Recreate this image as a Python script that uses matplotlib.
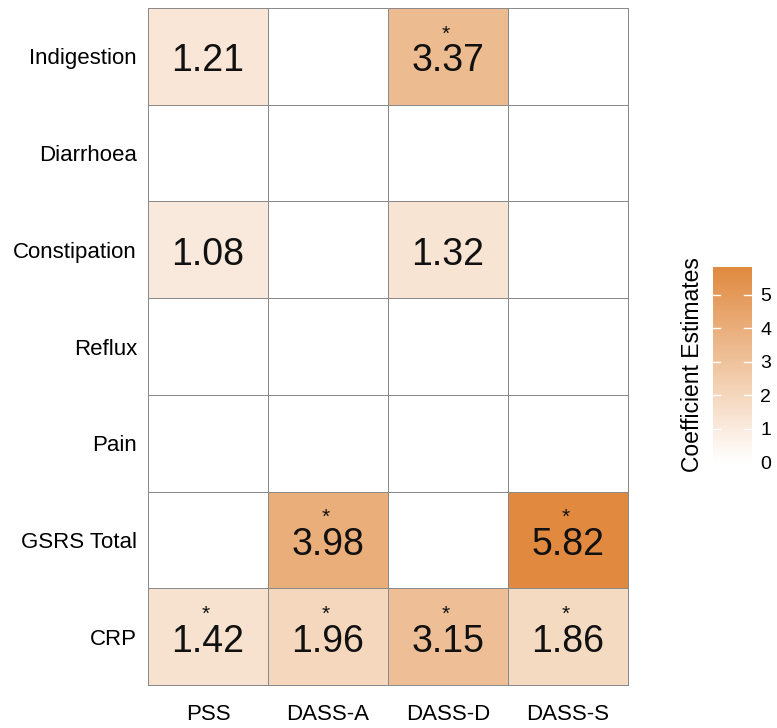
import numpy as np
import matplotlib
matplotlib.use('Agg')
import matplotlib.pyplot as plt
from matplotlib.colors import LinearSegmentedColormap

plt.rcParams['font.family'] = ['Liberation Sans', 'DejaVu Sans']

# Datos
filas = ['Indigestion', 'Diarrhoea', 'Constipation', 'Reflux', 'Pain', 'GSRS Total', 'CRP']
columnas = ['PSS', 'DASS-A', 'DASS-D', 'DASS-S']
valores = np.array([
    [1.21, 0, 3.37, 0],
    [0, 0, 0, 0],
    [1.08, 0, 1.32, 0],
    [0, 0, 0, 0],
    [0, 0, 0, 0],
    [0, 3.98, 0, 5.82],
    [1.42, 1.96, 3.15, 1.86],
])
significativo = np.array([
    [0, 0, 1, 0],
    [0, 0, 0, 0],
    [0, 0, 0, 0],
    [0, 0, 0, 0],
    [0, 0, 0, 0],
    [0, 1, 0, 1],
    [1, 1, 1, 1],
], dtype=bool)

cmap = LinearSegmentedColormap.from_list('naranja', ['#FFFFFF', '#E0893F'])

fig = plt.figure(figsize=(7.77, 7.28), dpi=100)
ax = fig.add_axes([0.1905, 0.059, 0.6175, 0.930])
malla = ax.pcolormesh(valores, cmap=cmap, vmin=0, vmax=5.82,
                      edgecolors='#8a8a8a', linewidth=0.5, clip_on=False)
ax.set_xlim(0, len(columnas))
ax.set_ylim(len(filas), 0)

for i in range(len(filas)):
    for j in range(len(columnas)):
        v = valores[i, j]
        if v != 0:
            ax.text(j + 0.5, i + 0.55, f'{v:.2f}', ha='center', va='center',
                    fontsize=27, color='#111111')
            if significativo[i, j]:
                ax.text(j + 0.48, i + 0.27, '*', ha='center', va='center',
                        fontsize=15, color='#111111')

ax.set_xticks(np.arange(len(columnas)) + 0.5)
ax.set_xticklabels(columnas, fontsize=16)
ax.set_yticks(np.arange(len(filas)) + 0.5)
ax.set_yticklabels(filas, fontsize=16)
ax.tick_params(axis='y', length=0, pad=8)
ax.tick_params(axis='x', length=0, pad=14)
for s in ax.spines.values():
    s.set_color('#8a8a8a')
    s.set_linewidth(0.5)

cax = fig.add_axes([0.917, 0.365, 0.051, 0.268])
cb = fig.colorbar(malla, cax=cax, ticks=[0, 1, 2, 3, 4, 5])
cb.outline.set_visible(False)
cb.ax.tick_params(labelsize=14, length=0, pad=6)
for t in [1, 2, 3, 4, 5]:
    cax.axhline(t, xmin=0, xmax=0.2, color='white', lw=1)
    cax.axhline(t, xmin=0.8, xmax=1, color='white', lw=1)
cax.set_ylabel('Coefficient Estimates', fontsize=16.5, labelpad=6)
cax.yaxis.set_label_position('left')

plt.savefig('out.png', dpi=100)
